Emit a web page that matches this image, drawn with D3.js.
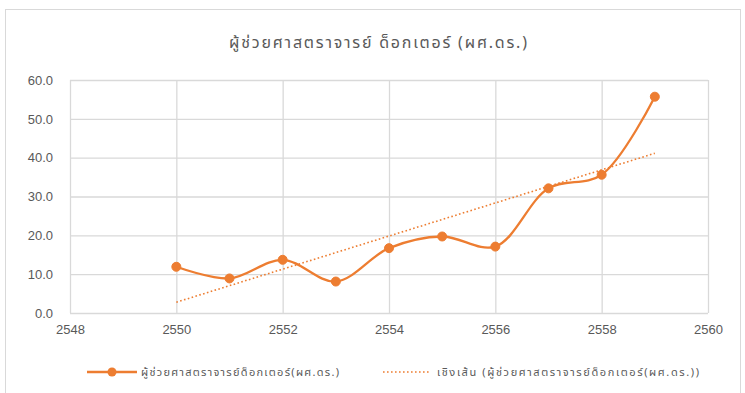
<!DOCTYPE html>
<html>
<head>
<meta charset="utf-8">
<script src="https://cdn.jsdelivr.net/npm/d3@7/dist/d3.min.js"></script>
<style>
  html, body { margin: 0; padding: 0; background: #fff; }
  svg { display: block; font-family: "Noto Sans", "Noto Sans Thai", "Tahoma", "DejaVu Sans", sans-serif; }
</style>
</head>
<body>
<svg id="chart" width="745" height="393"></svg>
<script>
// Academic year (B.E.) and number of assistant professors holding a doctorate
const years = [2550, 2551, 2552, 2553, 2554, 2555, 2556, 2557, 2558, 2559];
const counts = [11.9, 8.9, 13.7, 8.1, 16.7, 19.7, 17.1, 32.1, 35.6, 55.7];
const xTicks = [2548, 2550, 2552, 2554, 2556, 2558, 2560];
const yTicks = [0, 10, 20, 30, 40, 50, 60];

const titleText = "ผู้ช่วยศาสตราจารย์ ด็อกเตอร์ (ผศ.ดร.)";
const seriesName = "ผู้ช่วยศาสตราจารย์ด็อกเตอร์(ผศ.ดร.)";
const trendName = "เชิงเส้น (ผู้ช่วยศาสตราจารย์ด็อกเตอร์(ผศ.ดร.))";

const orange = "#ED7D31";
const grid = "#D9D9D9";
const textCol = "#595959";

const svg = d3.select("#chart");

// chart area frame
svg.append("rect")
  .attr("x", 5.5).attr("y", 9.5)
  .attr("width", 735).attr("height", 390)
  .attr("fill", "#fff").attr("stroke", grid).attr("stroke-width", 1);

const plot = { left: 70, right: 708, top: 80, bottom: 313 };

const x = d3.scaleLinear().domain([2548, 2560]).range([plot.left, plot.right]);
const y = d3.scaleLinear().domain([0, 60]).range([plot.bottom, plot.top]);

// title
svg.append("text")
  .attr("x", 378).attr("y", 48)
  .attr("text-anchor", "middle")
  .attr("fill", textCol)
  .attr("font-size", 16)
  .attr("textLength", 298)
  .attr("lengthAdjust", "spacing")
  .text(titleText);

// gridlines
const gx = svg.append("g")
  .attr("transform", `translate(0,${plot.bottom})`)
  .call(d3.axisBottom(x).tickValues(xTicks).tickSize(-(plot.bottom - plot.top)).tickFormat(d3.format("d")).tickPadding(12));
gx.select(".domain").remove();
gx.selectAll(".tick line").attr("stroke", grid).attr("stroke-width", 1.3);
gx.selectAll(".tick text").attr("fill", textCol).attr("font-size", 13);

const gy = svg.append("g")
  .attr("transform", `translate(${plot.left},0)`)
  .call(d3.axisLeft(y).tickValues(yTicks).tickSize(-(plot.right - plot.left)).tickFormat(d3.format(".1f")).tickPadding(17));
gy.select(".domain").remove();
gy.selectAll(".tick line").attr("stroke", grid).attr("stroke-width", 1.3);
gy.selectAll(".tick text").attr("fill", textCol).attr("font-size", 13);

// linear trendline (least squares)
const n = years.length;
const idx = d3.range(n);
const mx = d3.mean(idx), my = d3.mean(counts);
const slope = d3.sum(idx, i => (i - mx) * (counts[i] - my)) / d3.sum(idx, i => (i - mx) * (i - mx));
const intercept = my - slope * mx;
const trendPts = [[years[0], intercept], [years[n - 1], intercept + slope * (n - 1)]];

svg.append("path")
  .attr("d", d3.line().x(d => x(d[0])).y(d => y(d[1]))(trendPts))
  .attr("fill", "none")
  .attr("stroke", orange)
  .attr("stroke-width", 1.6)
  .attr("stroke-dasharray", "1.6 2.4");

// data line (smoothed)
const data = years.map((yr, i) => ({ yr, v: counts[i] }));
svg.append("path")
  .datum(data)
  .attr("d", d3.line().x(d => x(d.yr)).y(d => y(d.v)).curve(d3.curveCatmullRom.alpha(0.5)))
  .attr("fill", "none")
  .attr("stroke", orange)
  .attr("stroke-width", 2.3);

svg.append("g").selectAll("circle")
  .data(data).join("circle")
  .attr("cx", d => x(d.yr)).attr("cy", d => y(d.v))
  .attr("r", 4.5)
  .attr("fill", orange).attr("stroke", orange).attr("stroke-width", 1);

// legend
const legY = 372;
const lg = svg.append("g");
lg.append("line").attr("x1", 87).attr("x2", 137).attr("y1", legY).attr("y2", legY)
  .attr("stroke", orange).attr("stroke-width", 2.3);
lg.append("circle").attr("cx", 112).attr("cy", legY).attr("r", 4.5).attr("fill", orange);
lg.append("text").attr("x", 141).attr("y", legY + 4).attr("fill", textCol).attr("font-size", 11)
  .attr("textLength", 198).attr("lengthAdjust", "spacing").text(seriesName);

lg.append("line").attr("x1", 383).attr("x2", 430).attr("y1", legY).attr("y2", legY)
  .attr("stroke", orange).attr("stroke-width", 1.6).attr("stroke-dasharray", "1.6 2.4");
lg.append("text").attr("x", 437).attr("y", legY + 4).attr("fill", textCol).attr("font-size", 11)
  .attr("textLength", 262).attr("lengthAdjust", "spacing").text(trendName);
</script>
</body>
</html>
